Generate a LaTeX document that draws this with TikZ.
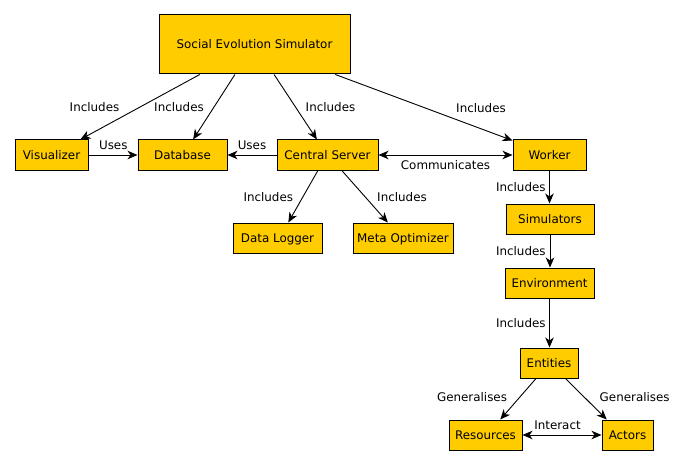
\documentclass[tikz,border=0pt]{standalone}
\usepackage{fontspec}
\setmainfont{DejaVu Sans}
\usetikzlibrary{arrows.meta,calc}
\definecolor{boxfill}{HTML}{FFCC00}
\begin{document}
\begin{tikzpicture}[x=1pt,y=-1pt,
  font=\fontsize{11.9pt}{14pt}\selectfont,
  box/.style={draw=black,fill=boxfill,line width=1pt,inner sep=0pt,
    text height=9.6pt,text depth=1pt},
  lbl/.style={inner sep=0pt,text height=9pt,text depth=0pt},
  arr/.style={line width=0.9pt,-{Stealth[length=10pt,width=8.5pt,inset=3pt]}},
  darr/.style={line width=0.9pt,{Stealth[length=10pt,width=8.5pt,inset=3pt]}-{Stealth[length=10pt,width=8.5pt,inset=3pt]}}]
\useasboundingbox (0,0) rectangle (687,465);

% boxes
\node[box,minimum width=191pt,minimum height=59pt] (ses) at (254.5,44.5) {Social Evolution Simulator};
\node[box,minimum width=73pt,minimum height=30pt] (vis) at (51.5,155) {Visualizer};
\node[box,minimum width=89pt,minimum height=30pt] (db) at (182.5,155) {Database};
\node[box,minimum width=101pt,minimum height=30pt] (cs) at (327.5,155) {Central Server};
\node[box,minimum width=73pt,minimum height=30pt] (wk) at (549.5,155) {Worker};
\node[box,minimum width=89pt,minimum height=30pt] (dl) at (277.5,238) {Data Logger};
\node[box,minimum width=100pt,minimum height=30pt] (mo) at (403,238) {Meta Optimizer};
\node[box,minimum width=88pt,minimum height=30pt] (sim) at (550,219) {Simulators};
\node[box,minimum width=89pt,minimum height=30pt] (env) at (549.5,283) {Environment};
\node[box,minimum width=58pt,minimum height=30pt] (ent) at (549,363) {Entities};
\node[box,minimum width=73pt,minimum height=30pt] (res) at (485.5,435) {Resources};
\node[box,minimum width=51pt,minimum height=30pt] (act) at (627.5,435) {Actors};

% anchor coordinates
\coordinate (s1) at ($(ses.south west)!0.215!(ses.south east)$);
\coordinate (s2) at ($(ses.south west)!0.398!(ses.south east)$);
\coordinate (s3) at ($(ses.south west)!0.602!(ses.south east)$);
\coordinate (s4) at ($(ses.south west)!0.921!(ses.south east)$);
\coordinate (t1) at ($(vis.north west)!0.89!(vis.north east)$);
\coordinate (t2) at ($(db.north west)!0.618!(db.north east)$);
\coordinate (t3) at ($(cs.north west)!0.396!(cs.north east)$);
\coordinate (t4) at ($(wk.north west)+(0,1)$);
\coordinate (c1) at ($(cs.south west)!0.406!(cs.south east)$);
\coordinate (c2) at ($(cs.south west)!0.64!(cs.south east)$);
\coordinate (d1) at ($(dl.north west)!0.62!(dl.north east)$);
\coordinate (m1) at ($(mo.north west)!0.35!(mo.north east)$);
\coordinate (e1) at ($(ent.south west)!0.28!(ent.south east)$);
\coordinate (e2) at ($(ent.south west)!0.78!(ent.south east)$);
\coordinate (r1) at ($(res.north west)!0.70!(res.north east)$);
\coordinate (a1) at ($(act.north west)!0.10!(act.north east)$);

% connectors
\draw[arr] (s1) -- (t1);
\draw[arr] (s2) -- (t2);
\draw[arr] (s3) -- (t3);
\draw[arr] (s4) -- (t4);
\draw[arr] (vis.east) -- (db.west);
\draw[arr] (cs.west) -- (db.east);
\draw[darr] (cs.east) -- (wk.west);
\draw[arr] (c1) -- (d1);
\draw[arr] (c2) -- (m1);
\draw[arr] (wk.south) -- (wk.south |- sim.north);
\draw[arr] (sim.south) -- (sim.south |- env.north);
\draw[arr] (env.south) -- (env.south |- ent.north);
\draw[arr] (e1) -- (r1);
\draw[arr] (e2) -- (a1);
\draw[darr] (res.east) -- (act.west);

% labels
\node[lbl] (l1) at (94.5,106.7) {Includes};
\node[lbl] (l2) at (179,106.7) {Includes};
\node[lbl] (l3) at (330.5,106.7) {Includes};
\node[lbl] (l4) at (481,108) {Includes};
\node[lbl] (l5) at (113.3,144.7) {Uses};
\node[lbl] (l6) at (252,144.7) {Uses};
\node[lbl] (l7) at (445.5,165.3) {Communicates};
\node[lbl] (l8) at (268.3,196.7) {Includes};
\node[lbl] (l9) at (402,196.7) {Includes};
\node[lbl] (l10) at (520.8,187) {Includes};
\node[lbl] (l11) at (520.8,250.5) {Includes};
\node[lbl] (l12) at (520.8,322.8) {Includes};
\node[lbl] (l13) at (472,397) {Generalises};
\node[lbl] (l14) at (634.7,397) {Generalises};
\node[lbl] (l15) at (557.5,424.5) {Interact};
\end{tikzpicture}
\end{document}
